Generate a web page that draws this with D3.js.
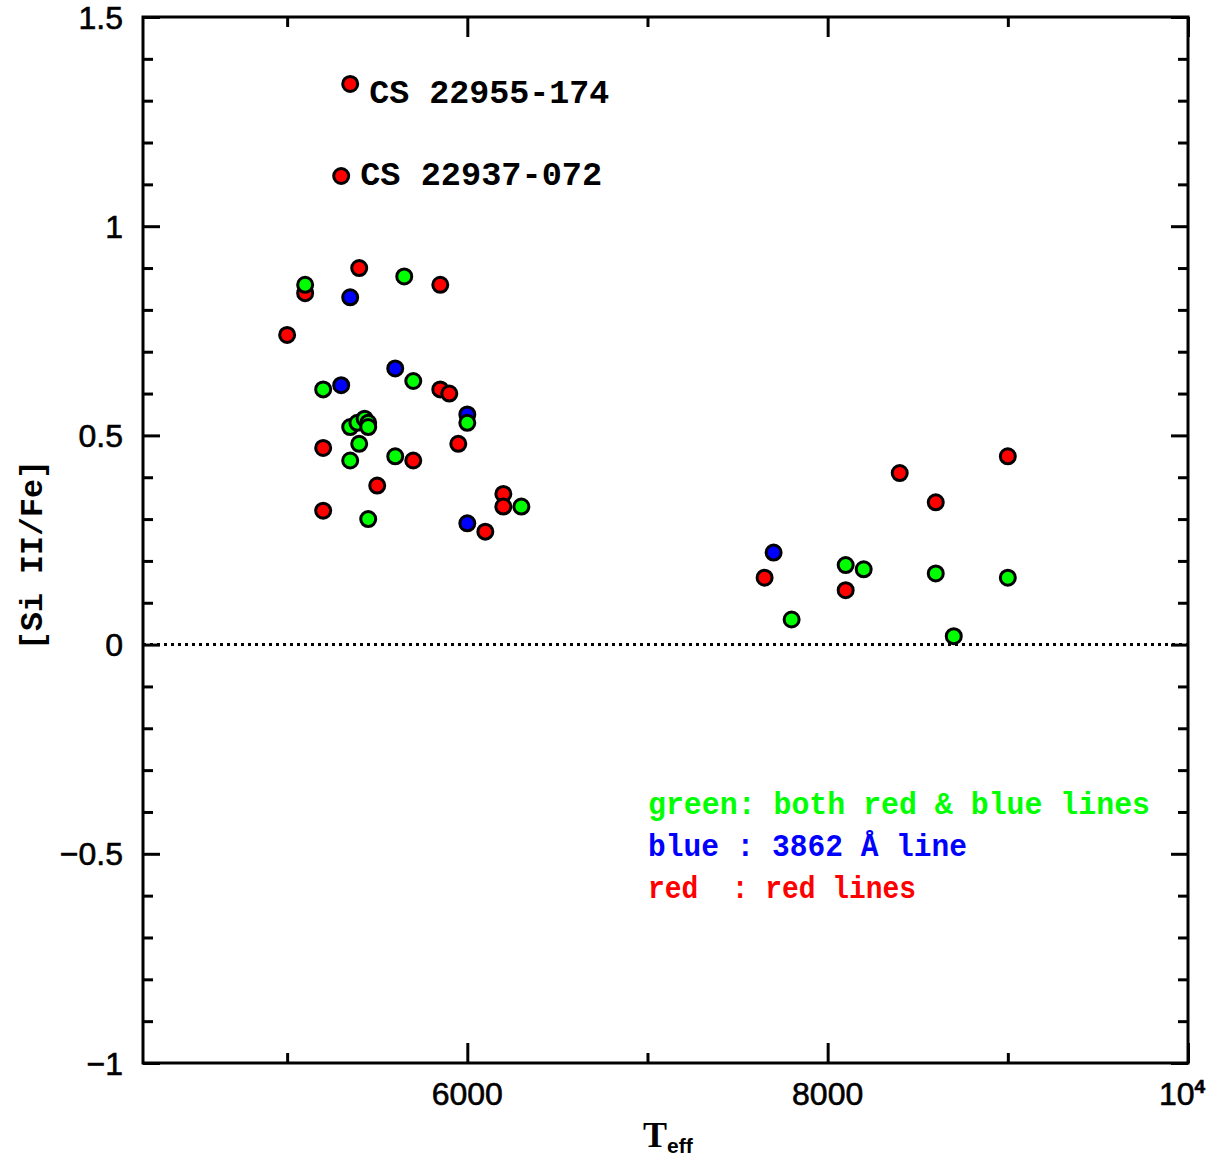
<!DOCTYPE html>
<html>
<head>
<meta charset="utf-8">
<script src="https://cdn.jsdelivr.net/npm/d3@7"></script>
<style>
  html, body { margin: 0; padding: 0; background: #fff; }
  svg { display: block; }
</style>
</head>
<body>
<svg id="chart" width="1225" height="1161"></svg>
<script>
// [Si II/Fe] versus effective temperature, split by which Si II lines were measured.
// Each star is [Teff, [Si II/Fe]].
const redLines = [
  [5350, 1.34], [5300, 1.12], [5100, 0.84], [5400, 0.90], [5850, 0.86],
  [5000, 0.74], [5850, 0.61], [5900, 0.60], [5200, 0.47], [5700, 0.44],
  [5950, 0.48], [5500, 0.38], [5200, 0.32], [6200, 0.36], [6200, 0.33],
  [6100, 0.27], [7650, 0.16], [8100, 0.13], [8400, 0.41], [8600, 0.34],
  [9000, 0.45]
];
const blueLine = [
  [5350, 0.83], [5600, 0.66], [5300, 0.62], [6000, 0.55], [6000, 0.29],
  [7700, 0.22]
];
const bothLines = [
  [5100, 0.86], [5650, 0.88], [5700, 0.63], [5200, 0.61], [6000, 0.53],
  [5350, 0.52], [5390, 0.53], [5430, 0.54], [5450, 0.53], [5450, 0.52],
  [5400, 0.48], [5350, 0.44], [5600, 0.45], [5450, 0.30], [6300, 0.33],
  [7800, 0.06], [8100, 0.19], [8200, 0.18], [8600, 0.17], [8700, 0.02],
  [9000, 0.16]
];

// Labelled stars
const namedStars = [
  { name: "CS 22955-174", teff: 5350, val: 1.34 },
  { name: "CS 22937-072", teff: 5300, val: 1.12 }
];

// Tick values and labels
const xMajorTicks = [6000, 8000, 10000];
const xMinorTicks = [5000, 7000, 9000];
const xTickLabels = ["6000", "8000", "10"];
const yMajorTicks = [-1, -0.5, 0, 0.5, 1, 1.5];
const yMinorTicks = [-0.9, -0.8, -0.7, -0.6, -0.4, -0.3, -0.2, -0.1,
                     0.1, 0.2, 0.3, 0.4, 0.6, 0.7, 0.8, 0.9, 1.1, 1.2, 1.3, 1.4];
const yTickLabels = ["\u22121", "\u22120.5", "0", "0.5", "1", "1.5"];

const legendRows = [
  { text: "green: both red & blue lines", color: "#00ff00", width: 502 },
  { text: "blue : 3862 \u00c5 line", color: "#0000ff", width: 319 },
  { text: "red  : red lines", color: "#ff0000", width: 268 }
];

const svg = d3.select("#chart");
const plotL = 143, plotR = 1188, plotT = 17, plotB = 1063;

const x = d3.scaleLinear().domain([4200, 10000]).range([plotL, plotR]);
const y = d3.scaleLinear().domain([-1, 1.5]).range([plotB, plotT]);

const monoFont = "'Liberation Mono', 'DejaVu Sans Mono', monospace";
const sansFont = "'Liberation Sans', Arial, sans-serif";

// Inward ticks on all four sides
function tickGroup(axis, transform) {
  const g = svg.append("g").attr("transform", transform).call(axis);
  g.select(".domain").remove();
  g.selectAll("text").remove();
  g.selectAll("line").attr("stroke", "#000").attr("stroke-width", 3);
  return g;
}
tickGroup(d3.axisBottom(x).tickValues(xMajorTicks).tickSize(-20), `translate(0,${plotB})`);
tickGroup(d3.axisBottom(x).tickValues(xMinorTicks).tickSize(-10), `translate(0,${plotB})`);
tickGroup(d3.axisTop(x).tickValues(xMajorTicks).tickSize(-20), `translate(0,${plotT})`);
tickGroup(d3.axisTop(x).tickValues(xMinorTicks).tickSize(-10), `translate(0,${plotT})`);
tickGroup(d3.axisLeft(y).tickValues(yMajorTicks).tickSize(-17), `translate(${plotL},0)`);
tickGroup(d3.axisLeft(y).tickValues(yMinorTicks).tickSize(-10), `translate(${plotL},0)`);
tickGroup(d3.axisRight(y).tickValues(yMajorTicks).tickSize(-17), `translate(${plotR},0)`);
tickGroup(d3.axisRight(y).tickValues(yMinorTicks).tickSize(-10), `translate(${plotR},0)`);

// Frame
svg.append("rect")
  .attr("x", plotL).attr("y", plotT)
  .attr("width", plotR - plotL).attr("height", plotB - plotT)
  .attr("fill", "none").attr("stroke", "#000").attr("stroke-width", 3);

// Zero line
svg.append("line")
  .attr("x1", plotL).attr("x2", plotR)
  .attr("y1", y(0)).attr("y2", y(0))
  .attr("stroke", "#000").attr("stroke-width", 3)
  .attr("stroke-dasharray", "3,4");

// X tick labels
xMajorTicks.forEach((t, i) => {
  const txt = svg.append("text")
    .attr("x", x(t)).attr("y", 1105)
    .attr("text-anchor", "middle")
    .attr("font-family", sansFont).attr("font-size", 32)
    .attr("stroke", "#000").attr("stroke-width", 0.6)
    .text(xTickLabels[i]);
  if (t === 10000) {
    txt.attr("x", x(t) - 6);
    txt.append("tspan").attr("dy", -12).attr("font-size", 19).attr("font-weight", "bold").text("4");
  }
});

// Y tick labels
yMajorTicks.forEach((t, i) => {
  svg.append("text")
    .attr("x", 123).attr("y", y(t))
    .attr("dy", "0.36em")
    .attr("text-anchor", "end")
    .attr("font-family", sansFont).attr("font-size", 32)
    .attr("stroke", "#000").attr("stroke-width", 0.6)
    .text(yTickLabels[i]);
});

// Axis titles
svg.append("text")
  .attr("transform", "translate(42,555) rotate(-90)")
  .attr("text-anchor", "middle")
  .attr("font-family", monoFont).attr("font-weight", "bold")
  .attr("font-size", 32)
  .attr("textLength", 190).attr("lengthAdjust", "spacingAndGlyphs")
  .text("[Si II/Fe]");

const xTitle = svg.append("text")
  .attr("x", 643).attr("y", 1147)
  .attr("font-family", "'Liberation Serif', serif").attr("font-weight", "bold")
  .attr("font-size", 36)
  .text("T");
xTitle.append("tspan")
  .attr("dy", 6)
  .attr("font-family", sansFont).attr("font-size", 21)
  .text("eff");

// Points: red first, then blue, then green on top
const groups = [
  { data: redLines, color: "#ff0000" },
  { data: blueLine, color: "#0000ff" },
  { data: bothLines, color: "#00ff00" }
];
groups.forEach(gp => {
  svg.append("g").selectAll("circle")
    .data(gp.data)
    .join("circle")
    .attr("cx", d => x(d[0]))
    .attr("cy", d => y(d[1]))
    .attr("r", 7.5)
    .attr("fill", gp.color)
    .attr("stroke", "#000")
    .attr("stroke-width", 3);
});

// Star names
const nameWidths = [240, 242];
const nameDrop = [19, 9];
namedStars.forEach((s, i) => {
  svg.append("text")
    .attr("x", x(s.teff) + 19)
    .attr("y", y(s.val) + nameDrop[i])
    .attr("font-family", monoFont).attr("font-weight", "bold")
    .attr("font-size", 34)
    .attr("textLength", nameWidths[i]).attr("lengthAdjust", "spacingAndGlyphs")
    .attr("fill", "#000")
    .text(s.name);
});

// Colour key
legendRows.forEach((r, i) => {
  svg.append("text")
    .attr("x", 648).attr("y", 814 + i * 42)
    .attr("font-family", monoFont).attr("font-weight", "bold")
    .attr("font-size", 32)
    .attr("textLength", r.width).attr("lengthAdjust", "spacingAndGlyphs")
    .attr("fill", r.color)
    .attr("xml:space", "preserve")
    .style("white-space", "pre")
    .text(r.text);
});
</script>
</body>
</html>
